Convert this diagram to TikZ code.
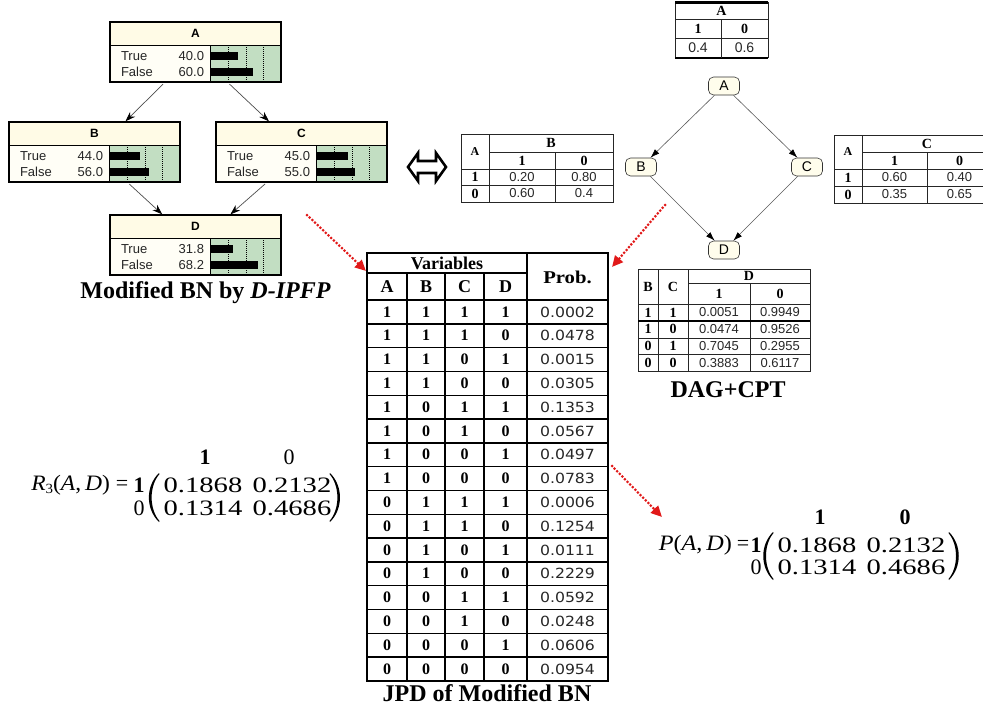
\documentclass[tikz,border=0pt]{standalone}
\usepackage{fontspec}
\setmainfont{Liberation Serif}
\newfontfamily\lsans{Liberation Sans}
\newfontfamily\dsans{DejaVu Sans}
\usepackage{graphicx}
\usetikzlibrary{arrows.meta,calc}
\newcommand\fs[1]{\fontsize{#1}{#1}\selectfont}
\definecolor{ntitle}{RGB}{255,251,230}
\definecolor{nbody}{RGB}{255,254,246}
\definecolor{ngreen}{RGB}{194,222,194}
\definecolor{dagfill}{RGB}{255,253,236}
\definecolor{reddish}{RGB}{225,25,25}
\newcommand\netica[6]{%
  \fill[nbody] (#2,#3) rectangle ++(171,60);
  \fill[ntitle] (#2,#3) rectangle ++(171,23);
  \fill[ngreen] ({#2+100},{#3+23}) rectangle ++(71,37);
  \foreach \dd in {18,36,53} {\draw[black, line width=0.7pt, dash pattern=on 1pt off 1pt] ({#2+100+\dd},{#3+23}) -- ++(0,37);}
  \fill[black] ({#2+100},{#3+30}) rectangle ++({#5*0.71},8);
  \fill[black] ({#2+100},{#3+46}) rectangle ++({#6*0.71},8);
  \draw[line width=0.8pt] (#2,{#3+23}) -- ++(171,0);
  \draw[line width=0.8pt] ({#2+100},{#3+23}) -- ++(0,37);
  \node[nhead] (#1h) at ({#2+85.5},{#3+11.5}) {#4};
  \node[ntxt, anchor=west] (#1tl) at ({#2+11},{#3+34}) {True};
  \node[ntxt, anchor=west] (#1fl) at ({#2+11},{#3+50}) {False};
  \node[ntxt, anchor=east] (#1tv) at ({#2+94},{#3+34}) {#5};
  \node[ntxt, anchor=east] (#1fv) at ({#2+94},{#3+50}) {#6};
  \node[nframe] (#1) at (#2,#3) {};
}
\begin{document}
\begin{tikzpicture}[x=1pt,y=-1pt,
  lbl/.style={inner sep=0pt, outer sep=0pt},
  ntxt/.style={lbl, font=\lsans\fs{13}, text=black!85},
  nhead/.style={lbl, font={\lsans\bfseries\fs{12}}},
  nframe/.style={draw, line width=1.6pt, minimum width=171pt, minimum height=60pt, anchor=north west, inner sep=0pt, outer sep=0pt},
  netarrow/.style={draw=black!70, line width=0.7pt, -{Stealth[length=10pt,width=7pt,color=black]}, shorten <=3pt, shorten >=1pt},
  dagnode/.style={draw=black!80, line width=0.6pt, fill=dagfill, rounded corners=5pt, minimum width=31pt, minimum height=18pt, inner sep=0pt, font=\lsans\fs{14}},
  dagarrow/.style={draw=black!65, line width=0.6pt, -{Latex[length=9pt,width=6pt,color=black]}},
  reddot/.style={draw=reddish, line width=3pt, line cap=round, dash pattern=on 0pt off 3.7pt, -{Triangle[length=11pt,width=10pt,color=reddish]}},
  jline/.style={line width=1.4pt},
  cline/.style={line width=0.9pt, draw=black!85},
  jb/.style={lbl, font={\bfseries\fs{16}}},
  jh/.style={lbl, font={\bfseries\fs{18}}},
  jp/.style={lbl, font={\dsans\fs{14}}, text=black!85},
  cb/.style={lbl, font={\bfseries\fs{14}}},
  cv/.style={lbl, font={\lsans\fs{13}}, text=black!85},
  captxt/.style={lbl, font={\bfseries\fs{24}}},
  mx/.style={lbl, font=\fs{22}},
  mxb/.style={lbl, font={\bfseries\fs{22}}}
]
\useasboundingbox (0,0) rectangle (983,715);
\clip (0,0) rectangle (983,715);

% ---------- Netica BN ----------
\netica{nA}{110}{22}{A}{40.0}{60.0}
\netica{nB}{9}{122}{B}{44.0}{56.0}
\netica{nC}{216}{122}{C}{45.0}{55.0}
\netica{nD}{110}{215}{D}{31.8}{68.2}
\draw[netarrow] (nA) -- (nB);
\draw[netarrow] (nA) -- (nC);
\draw[netarrow] (nB) -- (nD);
\draw[netarrow] (nC) -- (nD);
\node[captxt] (capL) at (205.5,293) {Modified BN by \textit{D-IPFP}};

% ---------- equivalence arrow ----------
\draw[line width=2.6pt, fill=white, line join=miter] (408,167) -- (418,153) -- (418,161) -- (436,161) -- (436,153) -- (446,167) -- (436,181) -- (436,173) -- (418,173) -- (418,181) -- cycle;

% ---------- CPT of A ----------
\draw[cline] (675,2) -- (675,58) (768,2) -- (768,58);
\draw[line width=3pt] (675,2) -- (768,2);
\draw[line width=2pt] (675,58) -- (768,58);
\draw[cline] (675,19) -- (768,19) (675,38) -- (768,38) (721,19) -- (721,58);
\node[cb] (tAh) at (721.5,10.5) {A};
\node[cb] (tA1) at (698,28.5) {1};
\node[cb] (tA0) at (744.5,28.5) {0};
\node[cv, font={\lsans\fs{14}}] (tAv1) at (698,48) {0.4};
\node[cv, font={\lsans\fs{14}}] (tAv0) at (744.5,48) {0.6};

% ---------- CPT of B ----------
\draw[cline] (461,134) rectangle (613,202);
\draw[cline] (489,134) -- (489,202) (555,152) -- (555,202) (489,152) -- (613,152) (461,169) -- (613,169) (461,185) -- (613,185);
\node[cb, font={\bfseries\fs{12}}] (tBa) at (475,151.5) {A};
\node[cb] (tBh) at (551,143) {B};
\node[cb] (tB1) at (522,160.5) {1};
\node[cb] (tB0) at (584,160.5) {0};
\node[cb] (tBr1) at (475,177) {1};
\node[cv] (tBv11) at (522,177) {0.20};
\node[cv] (tBv10) at (584,177) {0.80};
\node[cb] (tBr0) at (475,193.5) {0};
\node[cv] (tBv01) at (522,193.5) {0.60};
\node[cv] (tBv00) at (584,193.5) {0.4};

% ---------- CPT of C ----------
\draw[cline] (834,135) rectangle (992,203);
\draw[cline] (862,135) -- (862,203) (927,152) -- (927,203) (862,152) -- (992,152) (834,169) -- (992,169) (834,186) -- (992,186);
\node[cb, font={\bfseries\fs{12}}] (tCa) at (848,152) {A};
\node[cb] (tCh) at (927,143.5) {C};
\node[cb] (tC1) at (894.5,160.5) {1};
\node[cb] (tC0) at (959.5,160.5) {0};
\node[cb] (tCr1) at (848,177.5) {1};
\node[cv] (tCv11) at (894.5,177.5) {0.60};
\node[cv] (tCv10) at (959.5,177.5) {0.40};
\node[cb] (tCr0) at (848,194.5) {0};
\node[cv] (tCv01) at (894.5,194.5) {0.35};
\node[cv] (tCv00) at (959.5,194.5) {0.65};

% ---------- DAG ----------
\node[dagnode] (dA) at (724,86) {A};
\node[dagnode] (dB) at (641,167) {B};
\node[dagnode] (dC) at (807,167) {C};
\node[dagnode] (dD) at (724,250) {D};
\draw[dagarrow] (dA) -- (dB);
\draw[dagarrow] (dA) -- (dC);
\draw[dagarrow] (dB) -- (dD);
\draw[dagarrow] (dC) -- (dD);

% ---------- CPT of D ----------
\draw[cline] (638,269) rectangle (810,371);
\draw[cline] (658,269) -- (658,371) (688,269) -- (688,371) (750,283) -- (750,371);
\draw[cline] (688,283) -- (810,283) (638,304) -- (810,304) (638,338) -- (810,338) (638,354) -- (810,354);
\draw[line width=2pt] (638,321) -- (810,321);
\node[cb] (tDb) at (648,286.5) {B};
\node[cb] (tDc) at (673,286.5) {C};
\node[cb] (tDh) at (749,276) {D};
\node[cb] (tD1) at (719,293.5) {1};
\node[cb] (tD0) at (780,293.5) {0};
\foreach \b/\c/\p/\q [count=\i from 0] in {1/1/0.0051/0.9949, 1/0/0.0474/0.9526, 0/1/0.7045/0.2955, 0/0/0.3883/0.6117} {
  \node[cb] (tDrb\i) at (648,{312.5+16.7*\i}) {\b};
  \node[cb] (tDrc\i) at (673,{312.5+16.7*\i}) {\c};
  \node[cv] (tDp\i) at (719,{312.5+16.7*\i}) {\p};
  \node[cv] (tDq\i) at (780,{312.5+16.7*\i}) {\q};
}
\node[captxt] (capD) at (728,390) {DAG+CPT};

% ---------- JPD table ----------
\draw[line width=2pt] (367,253) rectangle (608,681);
\draw[jline] (407,273) -- (407,681) (445,273) -- (445,681) (484,273) -- (484,681);
\draw[line width=2.2pt] (527,253) -- (527,681);
\draw[jline] (367,273) -- (527,273);
\draw[line width=1.8pt] (367,300) -- (608,300);
\foreach \k in {1,...,15} {\draw[jline] (367,{300+23.8*\k}) -- (608,{300+23.8*\k});}
\node[jh] (jvar) at (447,263) {Variables};
\node[jh] (jprob) at (567.5,277) {\scalebox{1.15}[1]{Prob.}};
\node[jh] (jhA) at (387,287) {A};
\node[jh] (jhB) at (426,287) {B};
\node[jh] (jhC) at (464.5,287) {C};
\node[jh] (jhD) at (505.5,287) {D};
\foreach \a/\b/\c/\d/\p [count=\i from 0] in {
  1/1/1/1/0.0002, 1/1/1/0/0.0478, 1/1/0/1/0.0015, 1/1/0/0/0.0305,
  1/0/1/1/0.1353, 1/0/1/0/0.0567, 1/0/0/1/0.0497, 1/0/0/0/0.0783,
  0/1/1/1/0.0006, 0/1/1/0/0.1254, 0/1/0/1/0.0111, 0/1/0/0/0.2229,
  0/0/1/1/0.0592, 0/0/1/0/0.0248, 0/0/0/1/0.0606, 0/0/0/0/0.0954} {
  \node[jb] (ja\i) at (387,{300+23.8*(\i+0.5)}) {\a};
  \node[jb] (jb\i) at (426,{300+23.8*(\i+0.5)}) {\b};
  \node[jb] (jc\i) at (464.5,{300+23.8*(\i+0.5)}) {\c};
  \node[jb] (jd\i) at (505.5,{300+23.8*(\i+0.5)}) {\d};
  \node[jp] (jp\i) at (567.5,{300+23.8*(\i+0.5)}) {\scalebox{1.12}[1]{\p}};
}
\node[captxt] (capJ) at (487,693) {JPD of Modified BN};

% ---------- red dotted arrows ----------
\coordinate (r1s) at (307,215);
\coordinate (r1e) at (366,271);
\coordinate (r2s) at (665,205);
\coordinate (r2e) at (612,267);
\coordinate (r3s) at (612,466);
\coordinate (r3e) at (662,517);
\draw[reddot] (r1s) -- (r1e);
\draw[reddot] (r2s) -- (r2e);
\draw[reddot] (r3s) -- (r3e);

% ---------- R3(A,D) ----------
\node[mx, anchor=east] (r3l) at (110,485) {\scalebox{1.07}[1]{\textit{R}\raisebox{-3pt}{\fs{14}3}(\textit{A},\,\textit{D})}};
\node[mx] (r3eq) at (122,485) {=};
\node[mxb] (r3r1) at (139,485) {1};
\node[mx] (r3r0) at (139,508) {0};
\node[mxb] (r3c1) at (205,457) {1};
\node[mx] (r3c0) at (289,457) {0};
\node[mx] (r3a) at (203,485) {\scalebox{1.3}[1]{0.1868}};
\node[mx] (r3b) at (292,485) {\scalebox{1.3}[1]{0.2132}};
\node[mx] (r3c) at (203,508) {\scalebox{1.3}[1]{0.1314}};
\node[mx] (r3d) at (292,508) {\scalebox{1.3}[1]{0.4686}};
\fill (159,473) .. controls (145.5,486) and (145.5,509) .. (159,522) -- (159.5,521) .. controls (149,509) and (149,486) .. (159.5,474) -- cycle;
\fill (330,473) .. controls (343.3,486) and (343.3,509) .. (330,522) -- (329.5,521) .. controls (340,509) and (340,486) .. (329.5,474) -- cycle;

% ---------- P(A,D) ----------
\node[mx, anchor=east] (pl) at (732,545) {\scalebox{1.1}[1]{\textit{P}(\textit{A},\,\textit{D})}};
\node[mx] (peq) at (743,545) {=};
\node[mxb] (pr1) at (756,545) {1};
\node[mx] (pr0) at (756,567) {0};
\node[mxb] (pc1) at (820,517) {1};
\node[mxb] (pc0) at (905,517) {0};
\node[mx] (pa) at (817,545) {\scalebox{1.3}[1]{0.1868}};
\node[mx] (pb) at (906,545) {\scalebox{1.3}[1]{0.2132}};
\node[mx] (pc) at (817,567) {\scalebox{1.3}[1]{0.1314}};
\node[mx] (pd) at (906,567) {\scalebox{1.3}[1]{0.4686}};
\fill (773,532) .. controls (760,545) and (760,567) .. (773,580) -- (773.5,579) .. controls (763.5,567) and (763.5,545) .. (773.5,533) -- cycle;
\fill (949,532) .. controls (962,545) and (962,567) .. (949,580) -- (948.5,579) .. controls (958.5,567) and (958.5,545) .. (948.5,533) -- cycle;
\end{tikzpicture}
\end{document}
